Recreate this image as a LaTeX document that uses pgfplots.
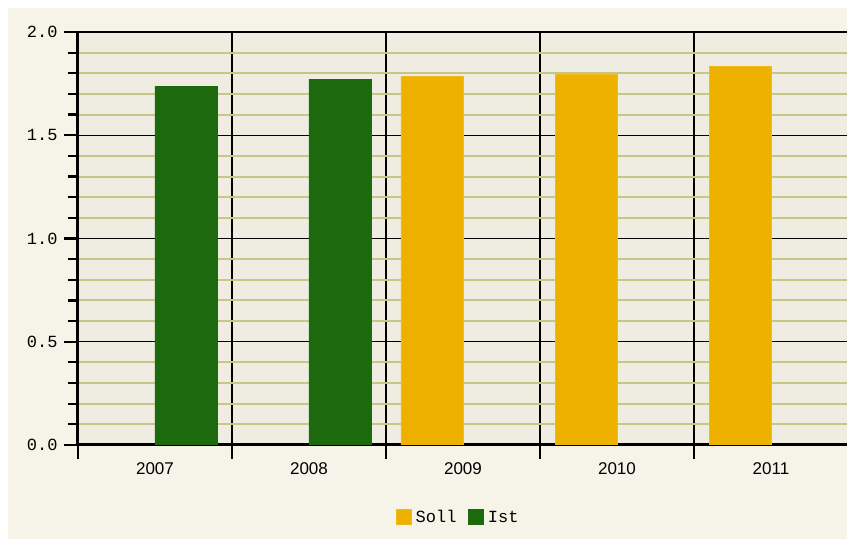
\documentclass[border=0pt]{standalone}
\usepackage{pgfplots}
\pgfplotsset{compat=1.18}
\usetikzlibrary{calc,backgrounds}
\usepackage{fontspec}
\setmainfont{Liberation Sans}
\newfontfamily\monof{Liberation Mono}
\definecolor{outerbg}{RGB}{246,244,233}
\definecolor{plotbg}{RGB}{239,237,225}
\definecolor{minorgrid}{RGB}{200,198,135}
\definecolor{istgreen}{RGB}{29,106,14}
\definecolor{sollorange}{RGB}{239,177,0}
\begin{document}
\begin{tikzpicture}[x=1pt,y=1pt]
\begin{axis}[
  name=ax,
  scale only axis, width=770pt, height=413pt,
  xmin=-0.5, xmax=4.5, ymin=0, ymax=2,
  axis background/.style={fill=plotbg},
  axis x line*=bottom, axis y line*=left,
  axis line style={line width=3pt, black, -},
  xtick={-0.5,0.5,1.5,2.5,3.5,4.5},
  x tick label as interval,
  xticklabels={2007,2008,2009,2010,2011},
  ytick={0,0.5,1,1.5,2},
  yticklabels={0.0,0.5,1.0,1.5,2.0},
  minor y tick num=4,
  tick align=outside,
  major tick length=14pt, minor tick length=10pt,
  every tick/.style={black, line width=2.2pt},
  xmajorgrids, ymajorgrids, yminorgrids,
  major grid style={black, line width=1.4pt},
  minor grid style={minorgrid, line width=2pt},
  x tick label style={font=\fontsize{17}{19}\selectfont, yshift=0pt},
  y tick label style={font=\monof\fontsize{17}{19}\selectfont, xshift=-3pt},
  ybar=0pt, bar width=62pt,
  legend columns=2,
  legend style={at={(0.494,-0.175)}, anchor=center, draw=none, fill=none,
    font=\monof\fontsize{17}{19}\selectfont,
    /tikz/every odd column/.append style={column sep=2pt},
    /tikz/every even column/.append style={column sep=10pt}},
  legend image code/.code={\fill[#1] (0pt,-7pt) rectangle (15pt,8pt);},
]
\coordinate (sw) at (rel axis cs:0,0);
\addplot[fill=sollorange, draw=sollorange!90!white] coordinates {(2,1.785) (3,1.795) (4,1.832)};
\addplot[fill=istgreen, draw=istgreen] coordinates {(0,1.738) (1,1.772)};
\legend{Soll,Ist}
\end{axis}
\begin{scope}[on background layer]
\fill[white] ($(sw)+(-78,-100)$) rectangle +(847,545);
\fill[outerbg] ($(sw)+(-70,-94)$) rectangle +(839,531);
\end{scope}
\pgfresetboundingbox
\path[use as bounding box] ($(sw)+(-78,-100)$) rectangle +(847,545);
\end{tikzpicture}
\end{document}
